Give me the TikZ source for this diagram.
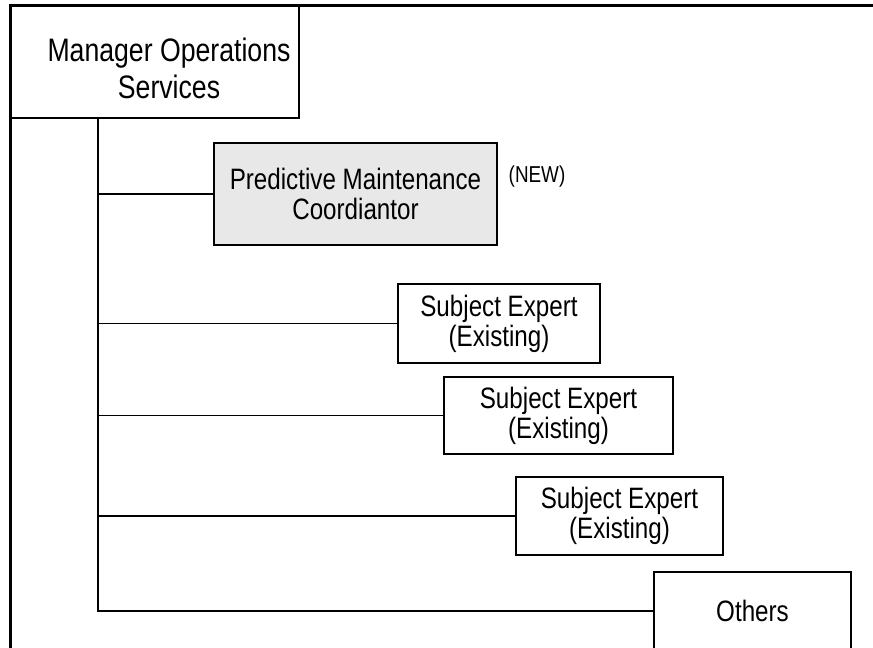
\documentclass[tikz,border=0pt]{standalone}
\usepackage{fontspec}
\setmainfont[FakeStretch=0.82]{Liberation Sans}
\tikzset{
    unitbox/.style={draw, line width=1.3pt, align=center, font=\fontsize{29.5}{30}\selectfont},
    branch/.style={line width=1.4pt}
}
\begin{document}
\begin{tikzpicture}[x=1pt, y=-1pt]
        \useasboundingbox (0, 0) rectangle (873, 648);
        \draw [line width=3pt] (10, 648) -- (10, 5) -- (873, 5);
        \node [draw, line width=1.5pt, minimum width=289pt, minimum height=113pt] (mgr) at (154.5, 61.5) {};
        \node [align=center, font=\fontsize{32.5}{37}\selectfont] (mgrlabel) at (169, 68) {Manager Operations\\Services};
        \coordinate (trunk) at (98, 118);
        \node [unitbox, fill=gray!18, minimum width=283pt, minimum height=102pt] (pmc) at (355.5, 194) {Predictive Maintenance\\Coordiantor};
        \node [font=\fontsize{23}{23}\selectfont] (new) at (537, 177) {(NEW)};
        \node [unitbox, minimum width=202pt, minimum height=79pt] (se1) at (499, 323.5) {Subject Expert\\(Existing)};
        \node [unitbox, minimum width=229pt, minimum height=77pt] (se2) at (558.5, 415.5) {Subject Expert\\(Existing)};
        \node [unitbox, minimum width=207pt, minimum height=78pt] (se3) at (619.5, 516) {Subject Expert\\(Existing)};
        \node [unitbox, minimum width=197pt, minimum height=78pt] (oth) at (752.5, 611) {Others};
        \draw [branch] (trunk) -- (trunk |- oth.west) -- (oth.west);
        \draw [branch] (pmc.west) -- (pmc.west -| trunk);
        \draw [branch] (se1.west) -- (se1.west -| trunk);
        \draw [branch] (se2.west) -- (se2.west -| trunk);
        \draw [branch] (se3.west) -- (se3.west -| trunk);
    \end{tikzpicture}
\end{document}
